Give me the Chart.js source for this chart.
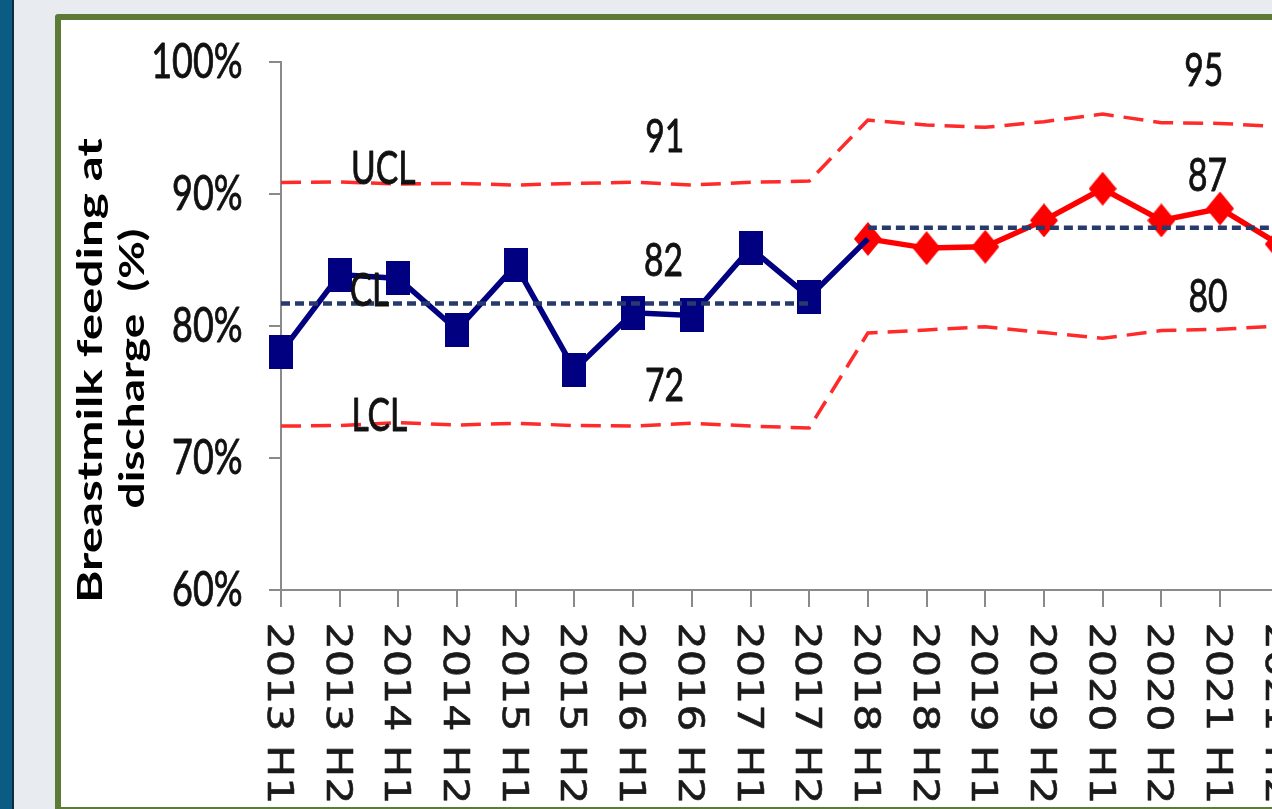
<!DOCTYPE html>
<html>
<head>
<meta charset="utf-8">
<script src="https://cdn.jsdelivr.net/npm/chart.js@4.4.1/dist/chart.umd.min.js"></script>
<style>
  html, body { margin:0; padding:0; width:1272px; height:809px; overflow:hidden; background:#e8ebf0; }
  #strip { position:absolute; left:0; top:0; width:12px; height:809px; background:#0a5c82; }
  #stripEdge { position:absolute; left:12px; top:0; width:2px; height:809px; background:#0d2c3c; }
  #box { position:absolute; left:55px; top:14px; width:1400px; height:787px; background:#ffffff;
         border:6px solid #5e7a37; border-radius:3px; }
  #c { position:absolute; left:0; top:0; }
</style>
</head>
<body>
<div id="strip"></div><div id="stripEdge"></div>
<div id="box"></div>
<canvas id="c" width="1320" height="809" style="width:1320px;height:809px;"></canvas>
<script>
// ---------------- data ----------------
const categories = ['2013 H1','2013 H2','2014 H1','2014 H2','2015 H1','2015 H2','2016 H1','2016 H2',
  '2017 H1','2017 H2','2018 H1','2018 H2','2019 H1','2019 H2','2020 H1','2020 H2','2021 H1','2021 H2'];
const baselineValues = [78.0, 83.9, 83.6, 79.7, 84.6, 76.7, 81.0, 80.8, 85.9, 82.2, 86.6,
  null, null, null, null, null, null, null];
const postValues = [null, null, null, null, null, null, null, null, null, null,
  86.6, 85.9, 86.0, 88.0, 90.4, 88.0, 88.9, 86.2];
const clBaseline = [81.7, 81.7, 81.7, 81.7, 81.7, 81.7, 81.7, 81.7, 81.7, 81.7,
  null, null, null, null, null, null, null, null];
const clPost = [null, null, null, null, null, null, null, null, null, null,
  87.45, 87.45, 87.45, 87.45, 87.45, 87.45, 87.45, 87.45];
const uclValues = [90.87, 90.91, 90.76, 90.81, 90.68, 90.8, 90.89, 90.68, 90.89, 90.98,
  95.6, 95.23, 95.05, 95.48, 96.06, 95.4, 95.35, 95.1];
const lclValues = [72.42, 72.46, 72.67, 72.5, 72.63, 72.46, 72.42, 72.63, 72.42, 72.27,
  79.47, 79.7, 79.95, 79.5, 79.07, 79.65, 79.75, 80.0];
const yTickValues = [60, 70, 80, 90, 100];
const yTickLabels = ['60%', '70%', '80%', '90%', '100%'];
const limitLabels = ['UCL', 'CL', 'LCL', '91', '82', '72', '95', '87', '80'];
const yTitleLines = ['Breastmilk feeding at', 'discharge  (%)'];

// ---------------- marker images ----------------
function squareMarker() {
  const c = document.createElement('canvas'); c.width = 24; c.height = 34;
  const g = c.getContext('2d'); g.fillStyle = '#000080'; g.fillRect(0, 0, 24, 34); return c;
}
function diamondMarker() {
  const c = document.createElement('canvas'); c.width = 28; c.height = 34;
  const g = c.getContext('2d'); g.fillStyle = '#ff0000';
  g.beginPath(); g.moveTo(14, 0); g.lineTo(28, 17); g.lineTo(14, 34); g.lineTo(0, 17); g.closePath(); g.fill();
  return c;
}
const sq = squareMarker(), dia = diamondMarker();

// ---------------- text helper ----------------
function inkOf(ctx, text, font) {
  ctx.save(); ctx.font = font; const m = ctx.measureText(text); ctx.restore();
  return { l: -m.actualBoundingBoxLeft, r: m.actualBoundingBoxRight, a: m.actualBoundingBoxAscent, d: m.actualBoundingBoxDescent };
}
function drawScaled(ctx, text, font, px, py, rot, sx, sy, align, color, stroke) {
  ctx.save();
  ctx.font = font; ctx.fillStyle = color; ctx.textBaseline = 'alphabetic'; ctx.textAlign = 'left';
  const k = inkOf(ctx, text, font);
  ctx.translate(px, py); ctx.rotate(rot); ctx.scale(sx, sy);
  let ox = align === 'center' ? -(k.l + k.r) / 2 : (align === 'right' ? -k.r : -k.l);
  ctx.fillText(text, ox, 0);
  if (stroke) { ctx.strokeStyle = color; ctx.lineWidth = stroke; ctx.lineJoin = 'round'; ctx.strokeText(text, ox, 0); }
  ctx.restore();
}

const textPlugin = {
  id: 'texts',
  afterDraw(chart) {
    const ctx = chart.ctx, xs = chart.scales.x, ys = chart.scales.y;
    // y tick labels
    const tf = '48px Lato';
    const s100 = inkOf(ctx, '100%', tf), d0 = inkOf(ctx, '0', tf);
    const tsx = 88 / (s100.r - s100.l), tsy = 35 / d0.a;
    yTickValues.forEach((v, i) => {
      drawScaled(ctx, yTickLabels[i], tf, 241.5, ys.getPixelForValue(v) + 16, 0, tsx, tsy, 'right', '#111', 0.9);
    });
    // x tick labels (rotated clockwise)
    const xf = '36px "DejaVu Sans"';
    const sx0 = inkOf(ctx, '2013 H1', xf), xd = inkOf(ctx, '0', xf);
    const xsx = 176 / (sx0.r - sx0.l), xsy = 26 / xd.a;
    categories.forEach((c, i) => {
      const px = xs.getPixelForValue(i);
      drawScaled(ctx, c, xf, px - 13, 625, Math.PI / 2, xsx, xsy, 'left', '#1a1a1a', 0.6);
    });
    // axis title (rotated counter-clockwise)
    const bf = 'bold 33px Lato';
    const capB = inkOf(ctx, 'B', bf).a;
    const midY = (ys.top + ys.bottom) / 2 + 42.5;
    const lens = [463, 277], bases = [102, 144];
    yTitleLines.forEach((t, i) => {
      const k = inkOf(ctx, t, bf);
      drawScaled(ctx, t, bf, bases[i], midY, -Math.PI / 2, lens[i] / (k.r - k.l), 25 / capB, 'center', '#000');
    });
    // control limit annotations (positions in data coordinates: category index, value)
    const af = '48px Lato';
    const a80 = inkOf(ctx, '80', af), ad = inkOf(ctx, '0', af);
    const asx = 37 / (a80.r - a80.l), asy = 34.5 / ad.a;
    const spots = [[1.755, 92.05], [1.516, 82.8], [1.695, 73.37], [6.534, 94.51], [6.517, 85.11],
                   [6.534, 75.64], [15.718, 99.51], [15.786, 91.55], [15.803, 82.35]];
    limitLabels.forEach((t, i) => {
      const px = xs.getPixelForValue(spots[i][0]);
      const py = ys.getPixelForValue(spots[i][1]) + 17.2;
      drawScaled(ctx, t, af, px, py, 0, asx, asy, 'center', '#111', 0.9);
    });
  }
};

const lastBaseline = baselineValues.reduce((a, v, i) => v !== null ? i : a, 0);

new Chart(document.getElementById('c'), {
  type: 'line',
  data: {
    labels: categories,
    datasets: [
      { data: clBaseline, borderColor: '#263a6b', borderWidth: 4.5, borderDash: [9, 5], pointRadius: 0, clip: false, spanGaps: false },
      { data: clPost, borderColor: '#263a6b', borderWidth: 4.5, borderDash: [9, 5], pointRadius: 0, clip: false, spanGaps: false },
      { data: baselineValues, borderColor: '#000080', borderWidth: 5.5, tension: 0, clip: false,
        pointStyle: sq, pointRadius: c => c.dataIndex === lastBaseline ? 0 : 10 },
      { data: postValues, borderColor: '#ff0000', borderWidth: 5.5, tension: 0, clip: false,
        pointStyle: dia, pointRadius: 10 },
      { data: uclValues, borderColor: '#ff2a2a', borderWidth: 3.5, borderDash: [20, 10], pointRadius: 0, clip: false },
      { data: lclValues, borderColor: '#ff2a2a', borderWidth: 3.5, borderDash: [20, 10], pointRadius: 0, clip: false }
    ]
  },
  options: {
    responsive: false, animation: false, devicePixelRatio: 1,
    layout: { autoPadding: false, padding: { left: 0, top: 62, right: 1320 - 1278.7, bottom: 0 } },
    plugins: { legend: { display: false }, tooltip: { enabled: false } },
    scales: {
      x: {
        type: 'category', offset: false,
        grid: { display: true, drawOnChartArea: false, drawTicks: true, tickLength: 17, color: '#8a8a8a', lineWidth: 2, offset: false },
        border: { display: true, color: '#8a8a8a', width: 2 },
        ticks: { display: false },
        afterFit(s) { s.height = 809 - 590; }
      },
      y: {
        min: 60, max: 100,
        afterBuildTicks(s) { s.ticks = yTickValues.map(v => ({ value: v })); },
        grid: { display: true, drawOnChartArea: false, drawTicks: true, tickLength: 12, color: '#8a8a8a', lineWidth: 2 },
        border: { display: true, color: '#8a8a8a', width: 2 },
        ticks: { display: false },
        afterFit(s) { s.width = 281; }
      }
    }
  },
  plugins: [textPlugin]
});
</script>
</body>
</html>
